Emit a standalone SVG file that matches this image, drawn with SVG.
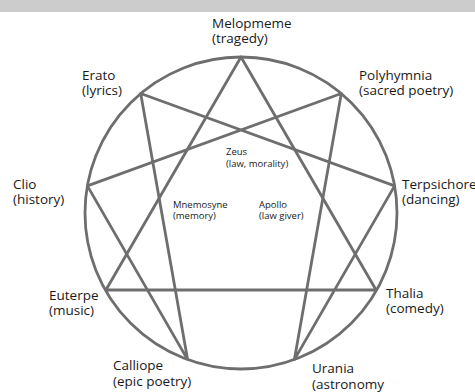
<svg xmlns="http://www.w3.org/2000/svg" width="475" height="392" viewBox="0 0 475 392">
<style>
.bg{fill:#ffffff}
.bar{fill:#cccccc}
.ring{fill:none;stroke:#6e6e6e;stroke-width:2.8}
.edge{fill:none;stroke:#6e6e6e;stroke-width:2.8;stroke-linecap:round;stroke-linejoin:round}
.lbl{font-family:"Open Sans","Liberation Sans",sans-serif;font-size:13.5px;fill:#1a1a1a}
.sm{font-family:"Open Sans","Liberation Sans",sans-serif;font-size:9.5px;fill:#1a1a1a}
</style>
<rect class="bg" x="0" y="0" width="475" height="392"/>
<rect class="bar" x="0" y="0" width="475" height="12"/>
<g id="connectors">
<circle class="ring" cx="241" cy="213" r="156"/>
<polygon class="edge" points="241,57 376.1,290 105.9,290"/>
<polygon class="edge" points="341.3,93.5 294.4,359.6 394.6,185.9 140.7,93.5 187.6,359.6 87.4,185.9"/>
</g>
<g id="melopmeme"><text class="lbl" x="212" y="28">Melopmeme</text><text class="lbl" x="212" y="43">(tragedy)</text></g>
<g id="erato"><text class="lbl" x="82" y="80">Erato</text><text class="lbl" x="82" y="95">(lyrics)</text></g>
<g id="polyhymnia"><text class="lbl" x="359" y="80">Polyhymnia</text><text class="lbl" x="359" y="95">(sacred poetry)</text></g>
<g id="clio"><text class="lbl" x="13" y="189">Clio</text><text class="lbl" x="13" y="204">(history)</text></g>
<g id="terpsichore"><text class="lbl" x="402" y="189">Terpsichore</text><text class="lbl" x="402" y="204">(dancing)</text></g>
<g id="euterpe"><text class="lbl" x="49" y="300">Euterpe</text><text class="lbl" x="49" y="315">(music)</text></g>
<g id="thalia"><text class="lbl" x="386" y="298">Thalia</text><text class="lbl" x="386" y="313">(comedy)</text></g>
<g id="calliope"><text class="lbl" x="113" y="370">Calliope</text><text class="lbl" x="113" y="386">(epic poetry)</text></g>
<g id="urania"><text class="lbl" x="312" y="373">Urania</text><text class="lbl" x="312" y="389">(astronomy</text></g>
<g id="zeus"><text class="sm" x="226" y="155">Zeus</text><text class="sm" x="226" y="167">(law, morality)</text></g>
<g id="mnemosyne"><text class="sm" x="173" y="208">Mnemosyne</text><text class="sm" x="173" y="219">(memory)</text></g>
<g id="apollo"><text class="sm" x="259" y="208">Apollo</text><text class="sm" x="259" y="219">(law giver)</text></g>
</svg>
